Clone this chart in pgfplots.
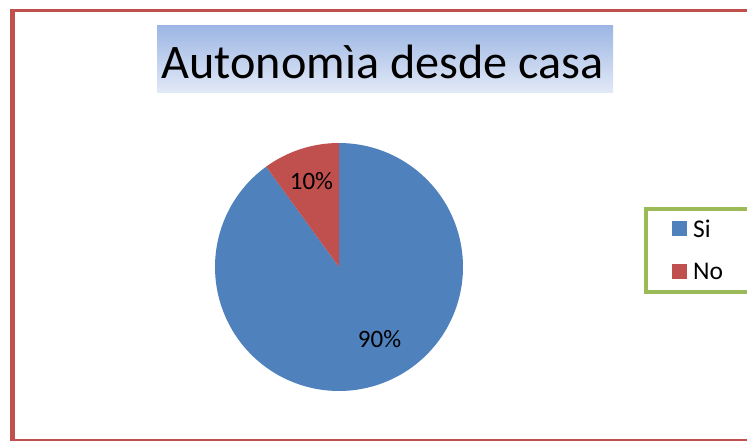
\documentclass[border=0pt]{standalone}
\usepackage{pgfplots}
\pgfplotsset{compat=1.18}
\usepackage{fontspec}
\setmainfont{Carlito}
\definecolor{pieblue}{RGB}{79,129,189}
\definecolor{piered}{RGB}{192,80,77}
\definecolor{lgreen}{RGB}{155,187,89}
\definecolor{frame}{RGB}{192,80,77}
\definecolor{ttop}{RGB}{156,182,228}
\definecolor{tbot}{RGB}{226,233,246}
\newcommand{\legfont}{\fontsize{25.5bp}{30bp}\selectfont}
\begin{document}
\begin{tikzpicture}
\def\valSi{90}
\def\valNo{10}
\pgfmathsetmacro{\noEnd}{90+3.6*\valNo}
\pgfmathsetmacro{\siEnd}{\noEnd+3.6*\valSi}
\useasboundingbox (0,0) rectangle (747bp,-441bp);
\clip (0,0) rectangle (747bp,-441bp);
\fill[white] (0,0) rectangle (747bp,-441bp);
\fill[frame] (10bp,-9bp) rectangle (14.5bp,-441bp);
\fill[frame] (10bp,-9bp) rectangle (747bp,-12bp);
\fill[frame] (10bp,-439bp) rectangle (747bp,-441bp);
\shade[top color=ttop,bottom color=tbot] (157bp,-25bp) rectangle (613bp,-92bp);
\node[anchor=base,inner sep=0pt,font=\fontsize{48.2bp}{56bp}\selectfont] at (382.5bp,-78bp) {Autonomìa desde casa};
\begin{axis}[at={(215bp,-391bp)},anchor=south west, scale only axis,
  width=248bp, height=248bp, xmin=-1,xmax=1,ymin=-1,ymax=1, hide axis, clip=false,
  legend style={at={(1.73,0.742)}, anchor=north west, draw=lgreen, line width=4bp,
    fill=white, inner xsep=26bp, inner ysep=7bp, row sep=17bp, column sep=6bp,
    nodes={inner sep=0pt, minimum height=26bp}},
  legend cell align=left,
  legend image code/.code={\fill[#1,draw=none] (0bp,-7.5bp) rectangle (15bp,7.5bp);}]
\addplot[fill=pieblue, draw=none, domain=\noEnd:\siEnd, samples=150] ({cos(x)},{sin(x)}) -- (axis cs:0,0) -- cycle;
\addlegendentry{\makebox[70bp][l]{\legfont Si}}
\addplot[fill=piered, draw=none, domain=90:\noEnd, samples=30] ({cos(x)},{sin(x)}) -- (axis cs:0,0) -- cycle;
\addlegendentry{\makebox[70bp][l]{\legfont No}}
\node[font=\fontsize{25bp}{30bp}\selectfont] at (axis cs:-0.222,0.694) {10\%};
\node[font=\fontsize{25bp}{30bp}\selectfont] at (axis cs:0.327,-0.585) {90\%};
\end{axis}
\end{tikzpicture}
\end{document}
